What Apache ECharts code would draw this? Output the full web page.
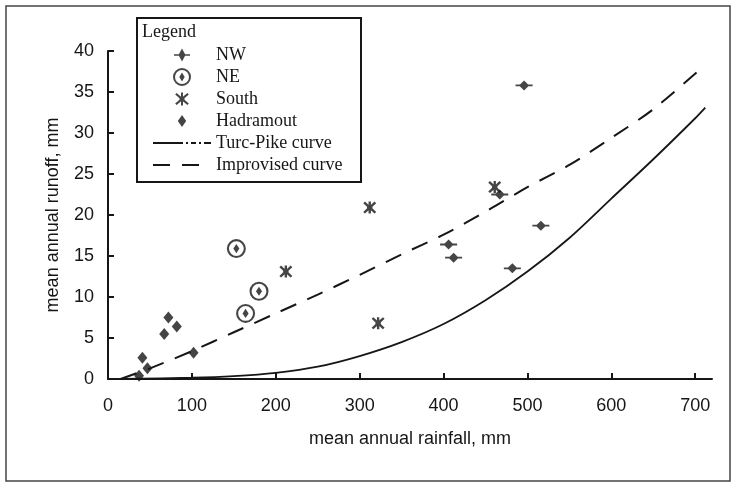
<!DOCTYPE html>
<html>
<head>
<meta charset="utf-8">
<script src="https://cdn.jsdelivr.net/npm/echarts@6/dist/echarts.min.js"></script>
<style>
  html, body { margin: 0; padding: 0; background: #fff; }
  #main { width: 736px; height: 484px; }
</style>
</head>
<body>
<div id="main"></div>
<script>
// data (rainfall mm, runoff mm)
var nwX = [496, 516, 482, 406, 412, 467];
var nwY = [35.8, 18.7, 13.5, 16.4, 14.8, 22.5];
var neX = [153, 180, 164];
var neY = [15.9, 10.7, 8.0];
var southX = [212, 312, 322, 461];
var southY = [13.1, 20.9, 6.8, 23.4];
var hadX = [37, 41, 47, 67, 72, 82, 102];
var hadY = [0.4, 2.6, 1.3, 5.5, 7.5, 6.4, 3.2];

var turcX = [15, 100, 150, 200, 250, 300, 350, 400, 450, 500, 550, 600, 650, 700, 712];
var turcY = [0, 0.15, 0.35, 0.75, 1.5, 2.8, 4.5, 6.7, 9.6, 13.1, 17.2, 22.0, 26.8, 31.8, 33.1];
var impX = [15, 50, 100, 150, 200, 250, 300, 350, 400, 450, 500, 550, 600, 650, 705];
var impY = [0, 1.3, 3.4, 5.7, 8.0, 10.3, 12.7, 15.2, 17.6, 20.4, 23.4, 26.1, 29.4, 32.9, 37.7];

var xTicks = [0, 100, 200, 300, 400, 500, 600, 700];

function pairs(xs, ys) {
  return xs.map(function (x, i) { return [x, ys[i]]; });
}

var ink = "#161616";
var sans = "Liberation Sans";
var serif = "Liberation Serif";

// plot markers
var symNW = "path://M0,4.1 L16,4.1 L16,5.9 L0,5.9 Z M8,0 L12.8,5 L8,10 L3.2,5 Z";
var symNE = "path://M10,0 A10,10 0 1,1 10,20 A10,10 0 1,1 10,0 Z M10,2.2 A7.8,7.8 0 1,0 10,17.8 A7.8,7.8 0 1,0 10,2.2 Z M10,5.2 L13.2,10 L10,14.8 L6.8,10 Z";
var symSouth = "path://M1.6,0 L6,4.3 L10.4,0 L12,1.6 L7.7,6 L12,10.4 L10.4,12 L6,7.7 L1.6,12 L0,10.4 L4.3,6 L0,1.6 Z M4.9,0 L7.1,0 L7.1,12 L4.9,12 Z M3.5,3.5 L8.5,3.5 L8.5,8.5 L3.5,8.5 Z";

// legend icons, drawn in a 20x20 frame (tiny corner specks fix the frame)
var pad = " M0,0 L0.01,0 L0,0.01 Z M20,20 L19.99,20 L20,19.99 Z";
var iconNW = "path://M2,9.2 L18,9.2 L18,10.8 L2,10.8 Z M10,3.5 L13.5,10 L10,16.5 L6.5,10 Z" + pad;
var iconNE = "path://M10,1 A9,9 0 1,1 10,19 A9,9 0 1,1 10,1 Z M10,3 A7,7 0 1,0 10,17 A7,7 0 1,0 10,3 Z M10,5.5 L12.7,10 L10,14.5 L7.3,10 Z" + pad;
var iconSouth = "path://M4.6,4 L10,8.4 L15.4,4 L16.8,5.6 L11.6,10 L16.8,14.4 L15.4,16 L10,11.6 L4.6,16 L3.2,14.4 L8.4,10 L3.2,5.6 Z M9,3.5 L11,3.5 L11,16.5 L9,16.5 Z M7.5,7.5 L12.5,7.5 L12.5,12.5 L7.5,12.5 Z" + pad;
var iconHad = "path://M10,4 L14.2,10 L10,16 L5.8,10 Z" + pad;

var chartDom = document.getElementById("main");
var myChart = echarts.init(chartDom, null, { renderer: "canvas" });
var option = {
  backgroundColor: "#fff",
  animation: false,
  grid: { left: 108, right: 24, top: 51, bottom: 105, outerBoundsMode: "none" },
  graphic: [
    {
      type: "rect",
      shape: { x: 6, y: 6, width: 724, height: 475 },
      style: { fill: "none", stroke: "#444", lineWidth: 1.5 },
      z: 1
    },
    {
      type: "rect",
      shape: { x: 137, y: 18, width: 224, height: 164 },
      style: { fill: "#fff", stroke: ink, lineWidth: 2 },
      z: 3
    },
    {
      type: "text",
      left: 142,
      top: 23,
      style: { text: "Legend", fill: ink, font: "18px " + serif },
      z: 5
    }
  ],
  legend: {
    orient: "vertical",
    left: 152,
    top: 45,
    padding: 0,
    itemWidth: 58,
    itemHeight: 20,
    itemGap: 2,
    z: 6,
    textStyle: { fontFamily: serif, fontSize: 18, color: ink, lineHeight: 20 },
    data: [
      { name: "NW", icon: iconNW },
      { name: "NE", icon: iconNE },
      { name: "South", icon: iconSouth },
      { name: "Hadramout", icon: iconHad },
      { name: "Turc-Pike curve", itemStyle: { opacity: 0 }, lineStyle: { type: [30, 3, 2, 3, 5, 3, 2, 3] } },
      { name: "Improvised curve", itemStyle: { opacity: 0 } }
    ]
  },
  xAxis: {
    type: "value",
    min: 0,
    max: 720,
    name: "mean annual rainfall, mm",
    nameLocation: "middle",
    nameGap: 51,
    nameTextStyle: { fontFamily: sans, fontSize: 18, color: ink },
    splitLine: { show: false },
    axisLine: { lineStyle: { color: ink, width: 2 } },
    axisTick: { inside: true, length: 6, customValues: xTicks, lineStyle: { color: ink, width: 2 } },
    axisLabel: { customValues: xTicks, margin: 18, fontFamily: sans, fontSize: 18, color: ink }
  },
  yAxis: {
    type: "value",
    min: 0,
    max: 40,
    interval: 5,
    name: "mean annual runoff, mm",
    nameLocation: "middle",
    nameGap: 46,
    nameTextStyle: { fontFamily: sans, fontSize: 18, color: ink },
    splitLine: { show: false },
    axisLine: { show: true, lineStyle: { color: ink, width: 2 } },
    axisTick: { show: true, inside: true, length: 6, lineStyle: { color: ink, width: 2 } },
    axisLabel: { margin: 14, fontFamily: sans, fontSize: 18, color: ink }
  },
  series: [
    {
      name: "NW", type: "scatter", data: pairs(nwX, nwY),
      symbol: symNW, symbolSize: [17, 10], itemStyle: { color: ink }
    },
    {
      name: "NE", type: "scatter", data: pairs(neX, neY),
      symbol: symNE, symbolSize: 19, itemStyle: { color: ink }
    },
    {
      name: "South", type: "scatter", data: pairs(southX, southY),
      symbol: symSouth, symbolSize: [13, 12], itemStyle: { color: ink }
    },
    {
      name: "Hadramout", type: "scatter", data: pairs(hadX, hadY),
      symbol: "diamond", symbolSize: [10, 12], itemStyle: { color: ink }
    },
    {
      name: "Turc-Pike curve", type: "line", data: pairs(turcX, turcY),
      smooth: 0.3, showSymbol: false, symbol: "none",
      itemStyle: { color: ink },
      lineStyle: { color: ink, width: 1.8, type: "solid" }
    },
    {
      name: "Improvised curve", type: "line", data: pairs(impX, impY),
      smooth: 0.3, showSymbol: false, symbol: "none",
      itemStyle: { color: ink },
      lineStyle: { color: ink, width: 2, type: [17, 12] }
    }
  ]
};
myChart.setOption(option);
</script>
</body>
</html>
